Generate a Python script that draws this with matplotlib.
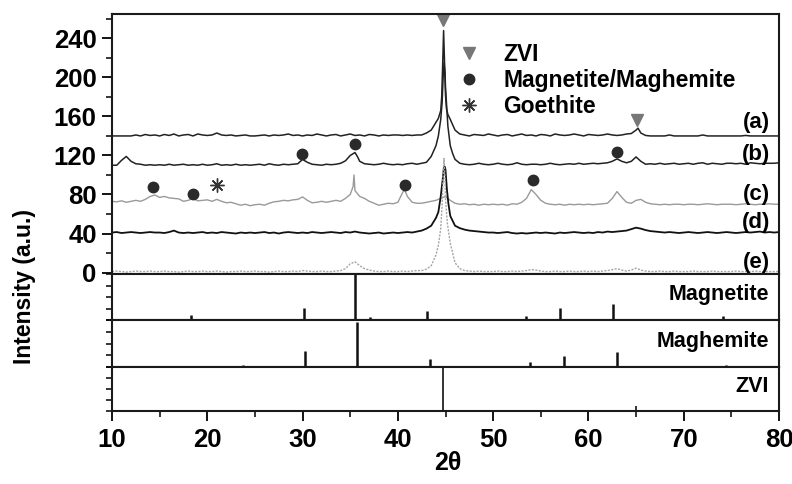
import numpy as np
import matplotlib.pyplot as plt
from matplotlib.lines import Line2D
from matplotlib.ticker import MultipleLocator, NullFormatter

plt.rcParams['font.family'] = ['Liberation Sans', 'DejaVu Sans']
plt.rcParams['font.weight'] = 'bold'

# difractogramas leidos cada 0.5 grados (10 -> 80)
paso = 0.5
a_y = [140, 140, 140, 140, 140, 141, 140, 141.5, 140.5, 141,
       140, 141.5, 140.5, 142, 140, 141, 141.5, 140, 142, 141,
       140.5, 141, 143, 141, 140.5, 141, 140, 140.5, 141, 140,
       140, 140.5, 141, 140, 141, 140.5, 141, 142, 140.5, 141,
       140, 141, 140.5, 142, 141, 140, 141, 141.5, 140, 141,
       142, 140.5, 141, 140, 141.5, 141, 140, 141, 140.5, 141,
       141, 140.5, 141, 140.5, 141, 141, 143, 146, 154, 166,
       182, 157, 146, 142, 141, 140, 141.5, 141, 140.5, 142,
       141, 140, 141, 141.5, 140, 141, 142, 140.5, 141, 140,
       141.5, 141, 140, 142, 141, 140.5, 141, 142, 141, 140,
       141.5, 141, 140.5, 141, 142, 141, 140.5, 141, 142, 142.5,
       146, 143, 140.5, 140, 140, 140, 140, 141, 140, 140,
       140, 140, 140, 140, 141, 140, 140, 140, 140, 140,
       140, 140, 140, 140.5, 140, 140, 140, 140, 140, 140,
       140]
a_px = [44.25, 44.6, 44.7, 44.8, 44.9, 45.1, 45.25, 65.2]
a_py = [158, 180, 212, 248, 215, 168, 162, 148]

b_y = [110, 110, 115, 119, 114, 111.5, 111, 110, 110.5, 110,
       110.5, 110, 111, 110, 110.5, 111, 110, 110.5, 110, 111,
       110, 110.5, 111.5, 110, 110.5, 110, 111, 110, 110.5, 110,
       110.5, 111, 110, 111.5, 110.5, 110, 111, 110.5, 111, 111.5,
       116, 113, 111, 110.5, 110, 111, 110.5, 111, 112, 114.5,
       120, 123, 114, 111.5, 111, 110.5, 111, 112, 111, 110.5,
       111, 110.5, 111.5, 112, 111, 112, 113, 119, 130, 157,
       190, 130, 116, 112, 111, 110.5, 111, 112, 111, 110.5,
       111, 112, 111, 110.5, 111, 112.5, 111, 110.5, 111, 111,
       110.5, 111, 112, 111, 110.5, 111, 111.5, 111, 112, 111,
       111.5, 112, 111.5, 112, 112.5, 114, 116.5, 114, 112.5, 114,
       118.5, 114, 111, 111.5, 111, 112, 111, 111.5, 112, 111,
       111.5, 112, 111, 112, 112.5, 111, 112, 111.5, 111, 112,
       112, 111.5, 112, 111, 112.5, 112, 111.5, 112, 112, 112,
       112.5]
b_px = [35.25, 35.75, 44.25, 44.65, 44.75, 44.85, 44.95, 45.25, 45.75]
b_py = [121.5, 119, 140, 175, 200, 215, 205, 150, 122]

c_y = [73, 72.5, 73.5, 72, 73, 74, 73, 75, 78, 79.5,
       77, 78, 76.5, 76, 75.5, 73, 74, 76, 73.5, 74,
       74.5, 73, 75, 73, 71.5, 72, 70.5, 69, 70, 68.5,
       69.5, 70, 69, 71, 72.5, 73, 74, 73.5, 74.5, 75,
       77.5, 74, 71.5, 72, 73, 72, 73, 74, 73, 76,
       80, 84, 78, 76, 73, 71, 69, 70, 71, 70.5,
       72, 82, 78, 72, 71, 71, 72, 73, 74, 76,
       78, 74, 71, 70, 70.5, 69.5, 70, 69, 70, 69.5,
       70, 69.5, 70, 69, 70.5, 70, 72, 76, 85, 80,
       74, 71, 70, 69.5, 70, 69, 70, 69.5, 70, 69.5,
       70, 69.5, 70, 70.5, 71, 76, 83, 77, 72, 71,
       74, 75, 72, 70.5, 70, 69.5, 70, 69.5, 70, 70,
       69.5, 70, 70, 69.5, 70, 70.5, 70, 69.5, 70, 70,
       70, 69.5, 70, 70.5, 70, 69.5, 70, 70, 70.5, 70,
       70]
c_px = [35.3, 35.4, 35.45, 40.7]
c_py = [88, 100, 92, 85]

d_y = [41, 41.5, 40.5, 41, 41.5, 41, 40.5, 41, 41.5, 41,
       41, 40.5, 41.5, 43, 41, 40.5, 41, 40.5, 41, 41.5,
       40.5, 41, 40.5, 41.5, 41, 40.5, 40, 41, 40.5, 41,
       40.5, 41, 41.5, 40.5, 41, 40, 41, 41.5, 41, 40.5,
       41, 40.5, 41.5, 41, 40.5, 41, 41.5, 41, 40.5, 41.5,
       41, 42, 41, 40.5, 40, 40.5, 41, 40, 40.5, 41,
       40.5, 41, 41.5, 41, 42, 43, 45, 48, 56, 78,
       105, 58, 48, 45.5, 44, 43, 42.5, 42, 41.5, 41,
       41, 40.5, 41, 41.5, 40.5, 40, 40.5, 40, 40.5, 41,
       40.5, 41, 40.5, 40, 41, 40.5, 41, 41.5, 41, 40.5,
       41, 40.5, 41.5, 41, 42, 41.5, 42, 42.5, 43, 44.5,
       46, 45, 43.5, 42.5, 42, 41.5, 41, 41.5, 41, 40.5,
       41, 41.5, 41, 40.5, 41, 41.5, 41, 40.5, 41, 41.5,
       41, 40.5, 41, 41.5, 41, 41.5, 42, 41, 41.5, 41,
       41.5]
d_px = [44.25, 44.7, 44.85, 44.95, 45.15, 45.3]
d_py = [62, 95, 109, 108, 85, 71]

e_y = [1, 1.5, 1, 0.5, 1, 1.5, 1, 1, 1.5, 1,
       1, 1.5, 1, 1, 0.5, 1, 1.5, 1, 1, 1.5,
       1, 1, 1.5, 1, 0.5, 1, 1, 1.5, 1, 1,
       1.5, 1, 1, 0.5, 1, 1.5, 1, 1, 1.5, 1,
       2, 1.5, 1, 1, 1.5, 1, 1, 1.5, 2, 4,
       9, 11, 7, 4, 2.5, 1.5, 1, 1, 1.5, 1,
       1, 1.5, 1, 1.5, 2, 2, 3.5, 7, 18, 45,
       75, 30, 10, 4, 2, 1.5, 1, 1.5, 1, 1,
       1, 1.5, 1, 1, 1.5, 1, 1.5, 2, 3, 2.5,
       1.5, 1, 1, 1.5, 1, 1, 1.5, 1, 1, 1.5,
       1, 1.5, 1, 1.5, 2, 3, 4, 2.5, 1.5, 2.5,
       4.5, 2.5, 1.5, 1, 1, 1.5, 1, 1, 1.5, 1,
       1, 1, 1.5, 1, 1, 1, 1.5, 1, 1, 1,
       1, 1.5, 1, 1, 1, 1.5, 1, 1, 1, 1,
       1]
e_px = [44.25, 44.65, 44.75, 44.85, 44.95, 45.2]
e_py = [28, 70, 100, 117, 95, 50]

etiquetas = ['(a)', '(b)', '(c)', '(d)', '(e)']
etiq_y = [143, 110, 69.5, 41, 0]

# marcadores de fases
tri_x = [44.75, 65.1]
tri_y = [259, 156]
dot_x = [29.9, 35.5, 63.0, 14.3, 18.5, 40.7, 54.2]
dot_y = [121.5, 132, 124, 88, 81, 90, 95]
ast_x = [21.0]
ast_y = [90]

# patrones de referencia
mag_pos = [18.3, 30.1, 35.5, 37.1, 43.1, 53.5, 57.0, 62.6, 71.0, 74.1, 79.0]
mag_int = [11, 27, 100, 6, 20, 9, 26, 34, 3, 8, 3]
mgh_pos = [18.4, 23.8, 26.1, 30.3, 32.2, 35.7, 37.3, 43.4, 53.9, 57.4, 63.0, 74.4]
mgh_int = [3, 4, 3, 34, 3, 95, 3, 16, 11, 24, 32, 4]
zvi_pos = [44.7, 65.0]
zvi_int = [100, 11]


def traza(base, px, py):
    x = 10 + paso * np.arange(len(base))
    xx = np.concatenate([x, px])
    yy = np.concatenate([base, py])
    o = np.argsort(xx, kind='stable')
    return xx[o], yy[o]


fig = plt.figure(figsize=(7.92, 4.84), dpi=100)
izq, ancho = 112 / 792, 667 / 792
ax = fig.add_axes([izq, 1 - 274 / 484, ancho, 260 / 484])
ax1 = fig.add_axes([izq, 1 - 320 / 484, ancho, 46 / 484])
ax2 = fig.add_axes([izq, 1 - 367 / 484, ancho, 47 / 484])
ax3 = fig.add_axes([izq, 1 - 411 / 484, ancho, 44 / 484])

negro = '#222222'
gris = '#9a9a9a'
estilos = [dict(color=negro, lw=1.1), dict(color=negro, lw=1.1),
           dict(color=gris, lw=1.0), dict(color='#111111', lw=1.3),
           dict(color='#a5a5a5', lw=1.0, ls=(0, (1.5, 1)))]
datos = [(a_y, a_px, a_py), (b_y, b_px, b_py), (c_y, c_px, c_py),
         (d_y, d_px, d_py), (e_y, e_px, e_py)]
for (base, px, py), est in zip(datos, estilos):
    x, y = traza(base, px, py)
    ax.plot(x, y, **est)

for lab, yy in zip(etiquetas, etiq_y):
    ax.text(79.1, yy, lab, ha='right', va='bottom', fontsize=16, fontweight='bold')

ax.plot(tri_x, tri_y, ls='none', marker='v', ms=9, color='#777777', clip_on=False)
ax.plot(dot_x, dot_y, ls='none', marker='o', ms=7.5, color='#2a2a2a')
ax.plot(ast_x, ast_y, ls='none', marker=(8, 2, 0), ms=10, mec='#333333', mew=1.0)

manejadores = [Line2D([], [], ls='none', marker='v', ms=9, color='#777777'),
               Line2D([], [], ls='none', marker='o', ms=7.5, color='#2a2a2a'),
               Line2D([], [], ls='none', marker=(8, 2, 0), ms=10, mec='#333333', mew=1.0)]
ax.legend(manejadores, ['ZVI', 'Magnetite/Maghemite', 'Goethite'],
          loc='upper left', bbox_to_anchor=(0.518, 0.89), frameon=False,
          prop={'weight': 'bold', 'size': 16.5},
          handlelength=1.0, handletextpad=1.0, labelspacing=0.15,
          borderpad=0, borderaxespad=0)

ax.set_xlim(10, 80)
ax.set_ylim(-1.5, 265)
ax.yaxis.set_major_locator(MultipleLocator(40))
ax.yaxis.set_minor_locator(MultipleLocator(20))

for p, pos, inten, lw0, nom in [(ax1, mag_pos, mag_int, 1.8, 'Magnetite'),
                                 (ax2, mgh_pos, mgh_int, 1.8, 'Maghemite'),
                                 (ax3, zvi_pos, zvi_int, 1.2, 'ZVI')]:
    p.vlines(pos, 0, inten, color='#111111', lw=lw0)
    p.set_xlim(10, 80)
    p.set_ylim(0, 100)
    p.yaxis.set_major_locator(MultipleLocator(25))
    p.yaxis.set_major_formatter(NullFormatter())
    p.tick_params(axis='y', length=4, width=1.1)
    p.text(0.985, 0.55, nom, transform=p.transAxes, ha='right', va='center',
           fontsize=15.5, fontweight='bold')

for p in [ax, ax1, ax2, ax3]:
    p.xaxis.set_major_locator(MultipleLocator(10))
    p.xaxis.set_minor_locator(MultipleLocator(5))
    p.tick_params(axis='x', which='major', length=7, width=1.3, direction='out', pad=5)
    p.tick_params(axis='x', which='minor', length=4, width=1.1, direction='out')
    for s in p.spines.values():
        s.set_linewidth(1.5)
        s.set_color('#1a1a1a')
    if p is not ax3:
        p.xaxis.set_major_formatter(NullFormatter())

ax.tick_params(axis='y', which='major', length=7, width=1.3, pad=4, labelsize=18.5)
ax.tick_params(axis='y', which='minor', length=4, width=1.1)
ax3.tick_params(axis='x', labelsize=18.5)
for t in ax.get_yticklabels() + ax3.get_xticklabels():
    t.set_fontweight('bold')

fig.text(25 / 792, 1 - 286 / 484, 'Intensity (a.u.)', rotation=90, ha='center',
         va='center', fontsize=16.5, fontweight='bold')
fig.text(448 / 792, 1 - 463 / 484, '2θ', ha='center', va='center',
         fontsize=18, fontweight='bold')

fig.savefig('out.png', dpi=100)
